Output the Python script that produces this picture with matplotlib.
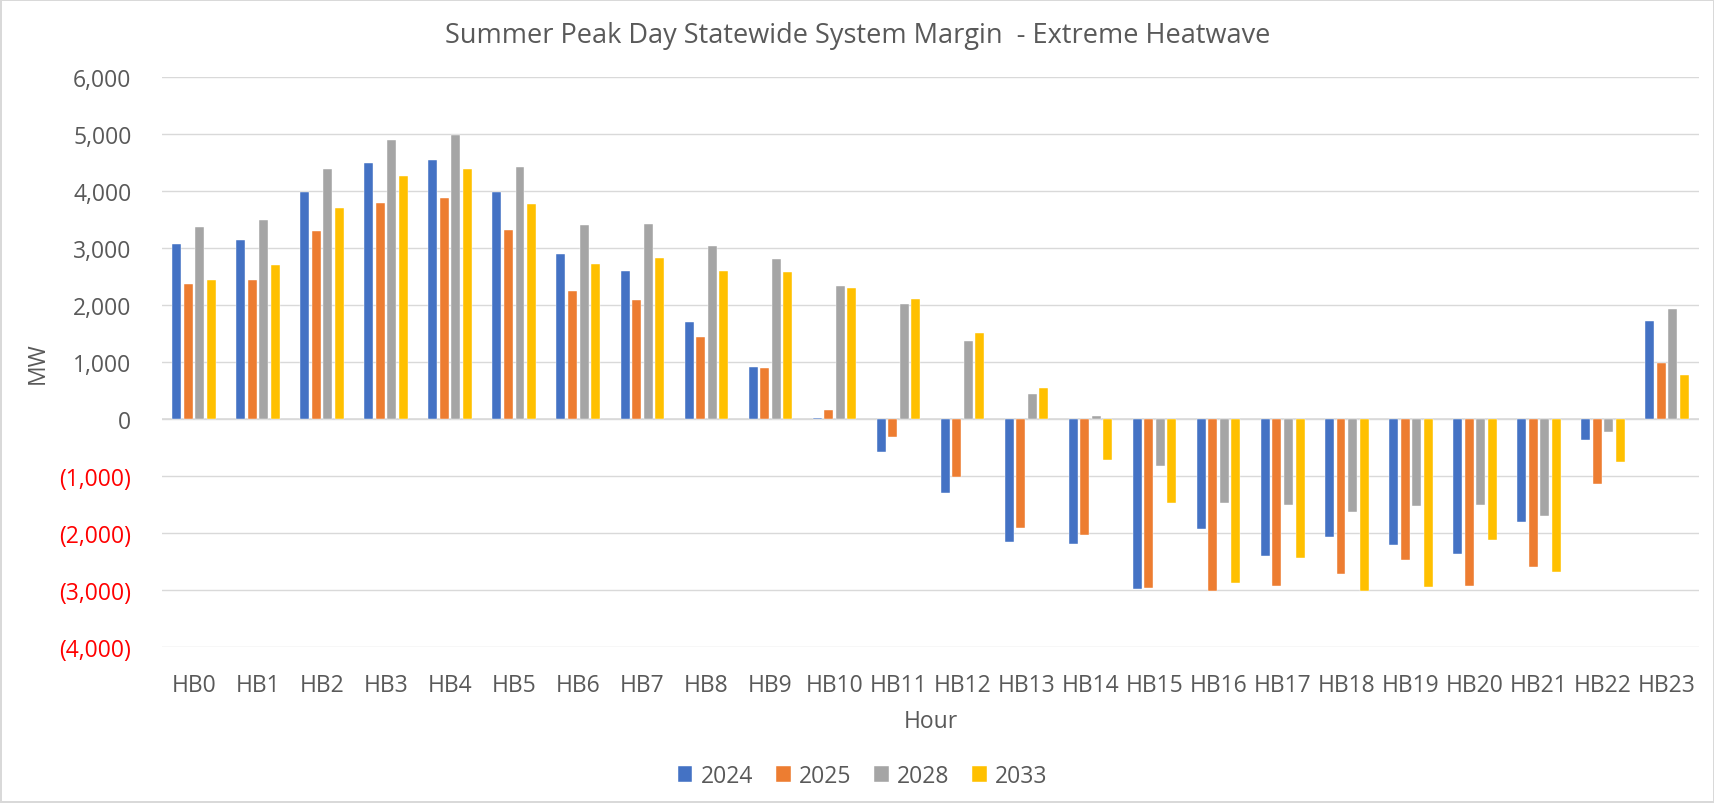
import matplotlib
matplotlib.use("Agg")
import matplotlib.pyplot as plt
import numpy as np
from matplotlib.ticker import FuncFormatter, MultipleLocator

hours = [f"HB{i}" for i in range(24)]
years = ["2024", "2025", "2028", "2033"]
v2024 = [3070, 3140, 3990, 4490, 4540, 3990, 2900, 2600, 1710, 915, 15, -585,
         -1300, -2150, -2190, -2980, -1935, -2405, -2070, -2210, -2370, -1800, -365, 1715]
v2025 = [2360, 2440, 3300, 3795, 3870, 3320, 2250, 2090, 1435, 895, 165, -310,
         -1020, -1910, -2035, -2965, -3020, -2925, -2725, -2475, -2925, -2605, -1140, 985]
v2028 = [3370, 3495, 4385, 4900, 4990, 4420, 3395, 3415, 3040, 2805, 2330, 2015,
         1375, 440, 55, -825, -1480, -1505, -1635, -1520, -1505, -1710, -230, 1930]
v2033 = [2440, 2705, 3695, 4270, 4385, 3770, 2720, 2820, 2600, 2580, 2305, 2110,
         1515, 545, -725, -1480, -2885, -2435, -3020, -2945, -2115, -2685, -760, 780]
series = [v2024, v2025, v2028, v2033]
colors = ["#4472C4", "#ED7D31", "#A5A5A5", "#FFC000"]

title = "Summer Peak Day Statewide System Margin  - Extreme Heatwave"
TXT = "#595959"
GRID = "#D9D9D9"

plt.rcParams['font.family'] = ['Open Sans', 'DejaVu Sans']

W, H = 1715, 804
fig = plt.figure(figsize=(W / 100, H / 100), dpi=100)
fig.patch.set_facecolor("white")
fig.patch.set_edgecolor(GRID)
fig.patch.set_linewidth(1.5)

L, R, T, B = 162, 1699, 78, 648
ax = fig.add_axes([L / W, 1 - B / H, (R - L) / W, (B - T) / H])

x = np.arange(len(hours))
step = 0.18
width = 0.14
for i, (vals, c, lab) in enumerate(zip(series, colors, years)):
    ax.bar(x + (i - 1.5) * step, vals, width=width, color=c, label=lab,
           edgecolor="white", linewidth=0.3, zorder=3)

ax.set_xlim(-0.5, len(hours) - 0.5)
ax.set_ylim(-4000, 6000)
ax.yaxis.set_major_locator(MultipleLocator(1000))
ax.grid(axis="y", color=GRID, linewidth=1.0, zorder=0)
ax.axhline(0, color=GRID, linewidth=1.2, zorder=2)
for s in ax.spines.values():
    s.set_visible(False)


def fmt(v, pos):
    if v < 0:
        return f"({abs(v):,.0f})"
    return f"{v:,.0f}"


ax.yaxis.set_major_formatter(FuncFormatter(fmt))
ax.set_xticks(x)
ax.set_xticklabels(hours)
ax.tick_params(axis="both", length=0, labelsize=16.5, colors=TXT)
ax.tick_params(axis="y", pad=22)
ax.tick_params(axis="x", pad=19)
for t, v in zip(ax.get_yticklabels(), ax.get_yticks()):
    if v < 0:
        t.set_color("#FF0000")

ax.set_xlabel("Hour", fontsize=16.5, color=TXT)
ax.xaxis.set_label_coords(0.5, (B - 722) / (B - T))
ax.xaxis.label.set_va("center")
ax.set_ylabel("MW", fontsize=16.5, color=TXT)
ax.yaxis.set_label_coords((38 - L) / (R - L), 0.5)
ax.yaxis.label.set_va("center")

fig.text(0.5, 1 - 36 / H, title, ha="center", va="center", fontsize=19.5, color=TXT)

leg = fig.legend(loc="center", bbox_to_anchor=(0.503, 1 - 777 / H), ncol=4, frameon=False,
                 fontsize=16.5, handlelength=0.65, handleheight=0.65,
                 handletextpad=0.35, columnspacing=1.0)
for t in leg.get_texts():
    t.set_color(TXT)

fig.savefig("out.png", dpi=100, facecolor="white", edgecolor=GRID)
